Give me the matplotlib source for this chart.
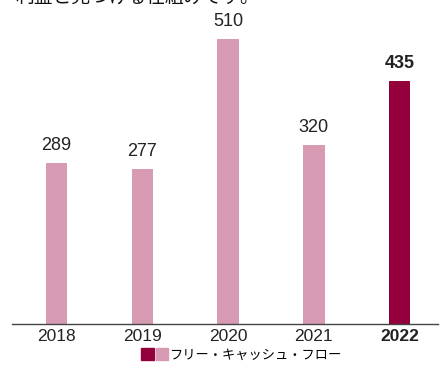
import matplotlib
matplotlib.use('Agg')
import matplotlib.pyplot as plt
from matplotlib.patches import Patch
from matplotlib.legend_handler import HandlerTuple

plt.rcParams['font.family'] = ['Liberation Sans', 'Noto Sans CJK JP', 'DejaVu Sans']

years = ['2018', '2019', '2020', '2021', '2022']
free_cash_flow = [289, 277, 510, 320, 435]
highlight = '2022'

light = '#d69bb2'
dark = '#93003b'

fig = plt.figure(figsize=(4.43, 3.66), dpi=100, facecolor='white')
ax = fig.add_axes([0.027, 0.115, 0.962, 0.885])

colors = [dark if y == highlight else light for y in years]
x = range(len(years))
ax.bar(x, free_cash_flow, width=0.25, color=colors)

for xi, y, v in zip(x, years, free_cash_flow):
    ax.text(xi, v + 16, str(v), ha='center', va='bottom', fontsize=13,
            color='#222222', fontweight='bold' if y == highlight else 'normal')

ax.set_xlim(-0.52, 4.45)
ax.set_ylim(0, 580)
ax.set_xticks(list(x))
ax.set_xticklabels(years, fontsize=12.5, color='#222222')
for lbl, y in zip(ax.get_xticklabels(), years):
    if y == highlight:
        lbl.set_fontweight('bold')
ax.tick_params(axis='x', length=0, pad=3.5)
ax.set_yticks([])
for side in ['top', 'left', 'right']:
    ax.spines[side].set_visible(False)
ax.spines['bottom'].set_color('#444444')
ax.spines['bottom'].set_linewidth(1.0)

# heading runs off the top edge
fig.text(0.035, 1.008, '利益と見つける仕組みです。', fontsize=13.5, ha='left', va='center',
         family=['Noto Sans CJK JP', 'DejaVu Sans'], color='#111111')

handle = (Patch(color=dark), Patch(color=light))
fig.legend([handle], ['フリー・キャッシュ・フロー'],
           handler_map={tuple: HandlerTuple(ndivide=None, pad=0.15)},
           loc='center', bbox_to_anchor=(0.545, 0.03), frameon=False,
           prop={'family': ['Noto Sans CJK JP', 'DejaVu Sans'], 'size': 9.5},
           handlelength=2.0, handleheight=1.0, handletextpad=0.1)

fig.savefig('out.png', dpi=100)
